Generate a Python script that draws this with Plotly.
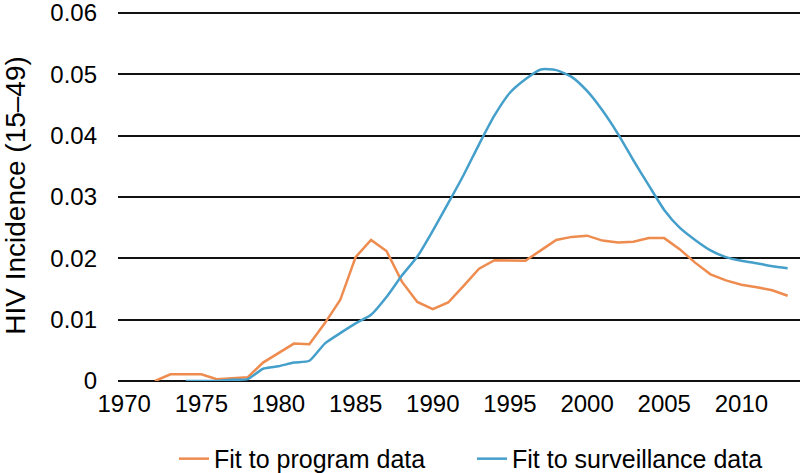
import plotly.graph_objects as go

# Data
years_program = list(range(1972, 2014))
incidence_program = [
    0.0000, 0.0011, 0.0011, 0.0011, 0.0003, 0.0004, 0.0006, 0.0030, 0.0045, 0.0061,  # 1972-1981
    0.0060, 0.0094, 0.0132, 0.0202, 0.0230, 0.0212, 0.0162, 0.0129, 0.0117, 0.0128,  # 1982-1991
    0.0155, 0.0183, 0.0197, 0.0196, 0.0196, 0.0213, 0.0230, 0.0235, 0.0237, 0.0229,  # 1992-2001
    0.0226, 0.0227, 0.0233, 0.0233, 0.0215, 0.0193, 0.0174, 0.0164, 0.0157, 0.0153,  # 2002-2011
    0.0148, 0.0139,                                                                    # 2012-2013
]

years_surveillance = list(range(1974, 2014))
incidence_surveillance = [
    0.0000, 0.0000, 0.0000, 0.0002, 0.0003, 0.0020, 0.0024, 0.0030,  # 1974-1981
    0.0033, 0.0061, 0.0078, 0.0094, 0.0108, 0.0137, 0.0172, 0.0203,  # 1982-1989
    0.0245, 0.0290, 0.0336, 0.0386, 0.0433, 0.0470, 0.0492, 0.0508,  # 1990-1997
    0.0507, 0.0496, 0.0473, 0.0441, 0.0403, 0.0360, 0.0319, 0.0279,  # 1998-2005
    0.0250, 0.0230, 0.0213, 0.0202, 0.0196, 0.0192, 0.0187, 0.0184,  # 2006-2013
]

x_ticks = [1970, 1975, 1980, 1985, 1990, 1995, 2000, 2005, 2010]
y_ticks = [0, 0.01, 0.02, 0.03, 0.04, 0.05, 0.06]
y_tick_labels = ["0", "0.01", "0.02", "0.03", "0.04", "0.05", "0.06"]

ORANGE = "#EE8B4F"
BLUE = "#459FCB"
FONT = "Liberation Sans, Arial, Helvetica, sans-serif"

fig = go.Figure()
fig.add_trace(go.Scatter(
    x=years_program, y=incidence_program, mode="lines",
    name="Fit to program data",
    line=dict(color=ORANGE, width=2.5),
))
fig.add_trace(go.Scatter(
    x=years_surveillance, y=incidence_surveillance, mode="lines",
    name="Fit to surveillance data",
    line=dict(color=BLUE, width=2.5, shape="spline", smoothing=0.6),
))

fig.update_layout(
    width=800, height=473,
    margin=dict(l=118, r=0, t=10, b=92, autoexpand=False),
    paper_bgcolor="white", plot_bgcolor="white",
    font=dict(family=FONT, color="black", size=24),
    showlegend=True,
    legend=dict(
        orientation="h", x=0.0821, xanchor="left", y=-0.21, yanchor="middle",
        font=dict(size=25, color="black"), bgcolor="rgba(0,0,0,0)",
        itemwidth=30, tracegroupgap=0, entrywidth=253, entrywidthmode="pixels",
    ),
    xaxis=dict(
        range=[1969.6, 2013.8], tickvals=x_ticks, automargin=False,
        showgrid=False, zeroline=False, showline=False,
        ticks="", ticklabelstandoff=6,
        tickfont=dict(size=24, family=FONT, color="black"),
    ),
    yaxis=dict(
        range=[0, 0.0605], tickvals=y_ticks, ticktext=y_tick_labels, automargin=False,
        showgrid=True, gridcolor="#111111", gridwidth=2,
        zeroline=True, zerolinecolor="#111111", zerolinewidth=2,
        showline=False, ticks="", ticklabelstandoff=20, ticklabeloverflow="allow",
        tickfont=dict(size=24, family=FONT, color="black"),
        title=dict(text="HIV Incidence (15–49)", font=dict(size=28, family=FONT, color="black"), standoff=30),
    ),
)

# remove the default page margin so the figure fills the window exactly
fig.write_html(
    "out.html",
    config={"displayModeBar": False},
    post_script="document.body.style.margin='0';",
)
